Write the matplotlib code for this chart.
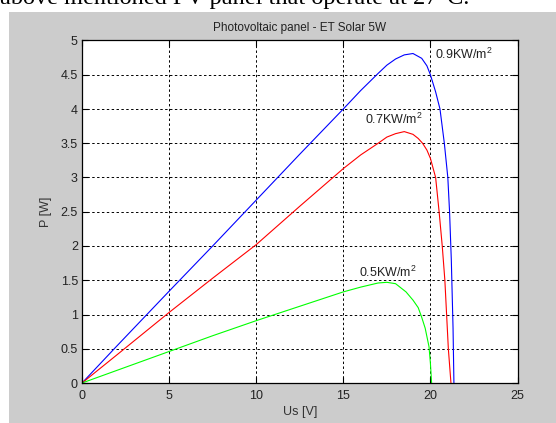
import matplotlib
matplotlib.use("Agg")
import matplotlib.pyplot as plt
from matplotlib.patches import Rectangle

plt.rcParams['font.family'] = ['Liberation Sans', 'DejaVu Sans']
plt.rcParams['mathtext.default'] = 'regular'

# ---- data ----
u_09 = [0, 2, 5, 7.5, 10, 12.5, 15, 16, 17, 17.5, 18, 18.5, 19.0, 19.5, 19.8,
        20.0, 20.3, 20.55, 20.8, 21.0, 21.1, 21.2, 21.3, 21.35]
p_09 = [0, 0.54, 1.34, 2.0, 2.67, 3.34, 4.0, 4.27, 4.52, 4.64, 4.73, 4.79, 4.81,
        4.74, 4.63, 4.5, 4.25, 4.0, 3.5, 3.0, 2.5, 1.8, 0.8, 0]

u_07 = [0, 2, 5, 7.5, 10, 12.5, 15, 16, 17, 17.5, 18, 18.5, 19.0, 19.3, 19.55,
        19.8, 20.0, 20.3, 20.5, 20.68, 20.83, 20.93, 21.03, 21.18]
p_07 = [0, 0.41, 1.03, 1.53, 2.02, 2.58, 3.13, 3.33, 3.5, 3.59, 3.64, 3.67, 3.63,
        3.57, 3.5, 3.4, 3.28, 3.0, 2.5, 2.0, 1.5, 1.0, 0.5, 0]

u_05 = [0, 2.5, 5, 7.5, 10, 12.5, 15, 16, 17, 17.5, 18.0, 18.6, 19.0, 19.3, 19.5,
        19.7, 19.92, 20.0, 20.07]
p_05 = [0, 0.23, 0.46, 0.69, 0.91, 1.12, 1.33, 1.40, 1.46, 1.47, 1.45, 1.33, 1.21,
        1.1, 0.96, 0.8, 0.53, 0.29, 0]

series_labels = ['0.9KW/m$^2$', '0.7KW/m$^2$', '0.5KW/m$^2$']
label_pos = [(20.25, 4.79), (16.25, 3.85), (15.92, 1.62)]

x_ticks = [0, 5, 10, 15, 20, 25]
y_ticks = [0, 0.5, 1, 1.5, 2, 2.5, 3, 3.5, 4, 4.5, 5]
y_tick_labels = ['0', '0.5', '1', '1.5', '2', '2.5', '3', '3.5', '4', '4.5', '5']

title = 'Photovoltaic panel - ET Solar 5W'
xlabel = 'Us [V]'
ylabel = 'P [W]'
header = 'above mentioned PV panel that operate at 27\u00b0C.'

W, H = 556, 423
fig = plt.figure(figsize=(W / 100, H / 100), dpi=100, facecolor='white')

# gray MATLAB figure area
fig.patches.append(Rectangle((9 / W, 0), 1 - 9 / W, 1 - 12 / H,
                             transform=fig.transFigure, facecolor='#cccccc',
                             edgecolor='none', zorder=-5))

fig.text(0 / W, 1 - 4 / H, header, family='Liberation Serif', fontsize=17.5,
         va='baseline', ha='left', color='black', zorder=-4)

ax = fig.add_axes([82 / W, 1 - 383 / H, (517.5 - 82) / W, (383 - 40.5) / H])
ax.set_zorder(2)
ax.set_facecolor('white')

ax.plot(u_09, p_09, color='#0000ff', lw=0.8)
ax.plot(u_07, p_07, color='#ff0000', lw=0.8)
ax.plot(u_05, p_05, color='#00ff00', lw=0.8)

for lab, (x, y) in zip(series_labels, label_pos):
    ax.text(x, y, lab, fontsize=9, ha='left', va='center', color='#222222')

ax.set_xlim(0, 25)
ax.set_ylim(0, 5)
ax.set_xticks(x_ticks)
ax.set_xticklabels([str(t) for t in x_ticks])
ax.set_yticks(y_ticks)
ax.set_yticklabels(y_tick_labels)
ax.tick_params(direction='in', length=4, width=0.8, labelsize=9,
               top=True, right=True, colors='black', labelcolor='#222222')
ax.tick_params(axis='x', pad=5)
ax.tick_params(axis='y', pad=3)
ax.grid(True, color='black', linestyle=(0, (2.5, 2.5)), linewidth=0.7)
for s in ax.spines.values():
    s.set_linewidth(0.9)
    s.set_color('black')

ax.set_title(title, fontsize=8.5, pad=7, color='#222222')
ax.set_xlabel(xlabel, fontsize=9, labelpad=3, color='#333333')
ax.set_ylabel(ylabel, fontsize=9, labelpad=6, color='#333333')

fig.savefig('out.png', dpi=100, facecolor='white')
